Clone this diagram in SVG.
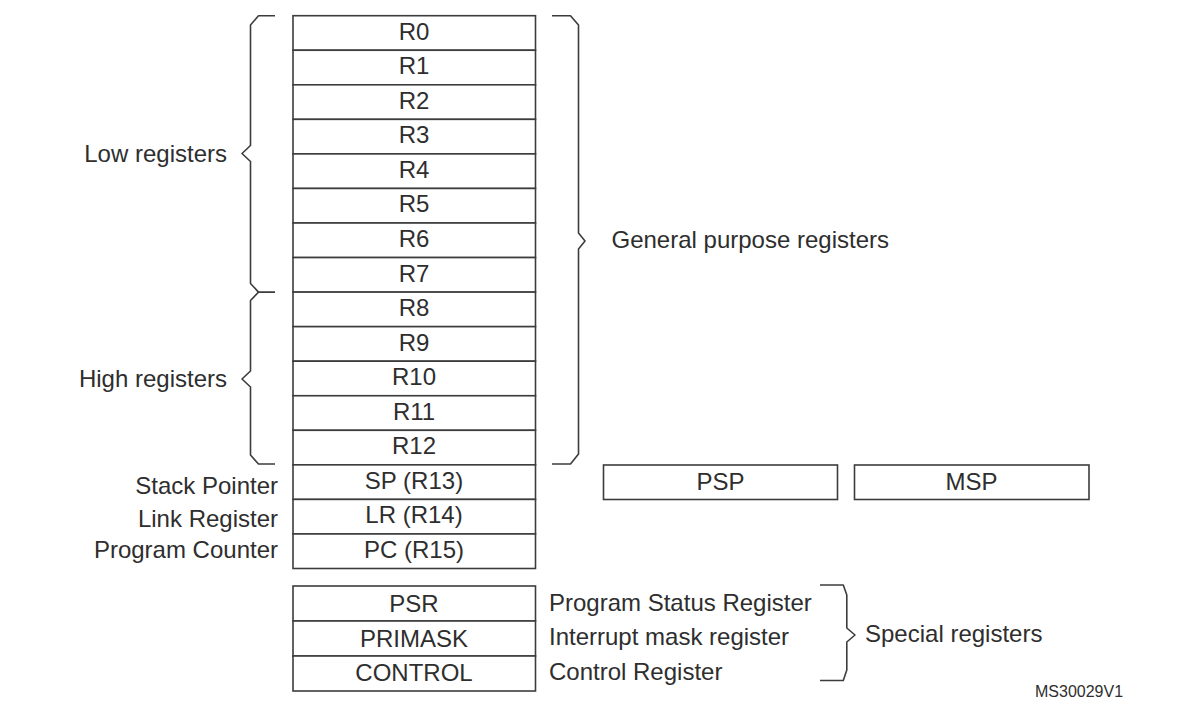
<svg xmlns="http://www.w3.org/2000/svg" width="1194" height="717" viewBox="0 0 1194 717">
  <style>
    .box { fill: #ffffff; stroke: #3c3c3c; stroke-width: 1.6; }
    .brace { fill: none; stroke: #3c3c3c; stroke-width: 1.6; stroke-linejoin: round; }
    text { font-family: "Liberation Sans", Arial, sans-serif; font-size: 24px; fill: #2e2e2e; }
    .c { text-anchor: middle; }
    .r { text-anchor: end; }
    .small { font-size: 16px; }
  </style>
  <rect width="1194" height="717" fill="#ffffff"/>

  <!-- core register file, R0..PC -->
  <g id="core-registers">
    <g id="reg-r0"><rect class="box" x="293" y="15.7" width="242.5" height="34.55"/><text class="c" x="414" y="39.7">R0</text></g>
    <g id="reg-r1"><rect class="box" x="293" y="50.25" width="242.5" height="34.55"/><text class="c" x="414" y="74.25">R1</text></g>
    <g id="reg-r2"><rect class="box" x="293" y="84.8" width="242.5" height="34.55"/><text class="c" x="414" y="108.8">R2</text></g>
    <g id="reg-r3"><rect class="box" x="293" y="119.35" width="242.5" height="34.55"/><text class="c" x="414" y="143.35">R3</text></g>
    <g id="reg-r4"><rect class="box" x="293" y="153.9" width="242.5" height="34.55"/><text class="c" x="414" y="177.9">R4</text></g>
    <g id="reg-r5"><rect class="box" x="293" y="188.45" width="242.5" height="34.55"/><text class="c" x="414" y="212.45">R5</text></g>
    <g id="reg-r6"><rect class="box" x="293" y="223" width="242.5" height="34.55"/><text class="c" x="414" y="247">R6</text></g>
    <g id="reg-r7"><rect class="box" x="293" y="257.55" width="242.5" height="34.55"/><text class="c" x="414" y="281.55">R7</text></g>
    <g id="reg-r8"><rect class="box" x="293" y="292.1" width="242.5" height="34.55"/><text class="c" x="414" y="316.1">R8</text></g>
    <g id="reg-r9"><rect class="box" x="293" y="326.65" width="242.5" height="34.55"/><text class="c" x="414" y="350.65">R9</text></g>
    <g id="reg-r10"><rect class="box" x="293" y="361.2" width="242.5" height="34.55"/><text class="c" x="414" y="385.2">R10</text></g>
    <g id="reg-r11"><rect class="box" x="293" y="395.75" width="242.5" height="34.55"/><text class="c" x="414" y="419.75">R11</text></g>
    <g id="reg-r12"><rect class="box" x="293" y="430.3" width="242.5" height="34.55"/><text class="c" x="414" y="454.3">R12</text></g>
    <g id="reg-sp"><rect class="box" x="293" y="464.85" width="242.5" height="34.55"/><text class="c" x="414" y="488.85">SP (R13)</text></g>
    <g id="reg-lr"><rect class="box" x="293" y="499.4" width="242.5" height="34.55"/><text class="c" x="414" y="523.4">LR (R14)</text></g>
    <g id="reg-pc"><rect class="box" x="293" y="533.95" width="242.5" height="34.55"/><text class="c" x="414" y="557.95">PC (R15)</text></g>
  </g>

  <!-- banked stack pointers -->
  <g id="reg-psp"><rect class="box" x="603.5" y="465" width="234" height="34.5"/><text class="c" x="720.5" y="489.5">PSP</text></g>
  <g id="reg-msp"><rect class="box" x="854.5" y="465" width="234.5" height="34.5"/><text class="c" x="971.5" y="489.5">MSP</text></g>

  <!-- special registers -->
  <g id="special-registers">
    <g id="reg-psr"><rect class="box" x="293" y="586" width="242.5" height="35"/><text class="c" x="414" y="612">PSR</text></g>
    <g id="reg-primask"><rect class="box" x="293" y="621" width="242.5" height="35"/><text class="c" x="414" y="646.5">PRIMASK</text></g>
    <g id="reg-control"><rect class="box" x="293" y="656" width="242.5" height="35"/><text class="c" x="414" y="681">CONTROL</text></g>
  </g>

  <!-- descriptive labels -->
  <g id="labels">
    <text class="r" x="227" y="161.7">Low registers</text>
    <text class="r" x="227" y="387.2">High registers</text>
    <text x="611.5" y="248.3">General purpose registers</text>
    <text class="r" x="278" y="494.3">Stack Pointer</text>
    <text class="r" x="278" y="526.5">Link Register</text>
    <text class="r" x="278" y="557.5">Program Counter</text>
    <text x="549" y="611">Program Status Register</text>
    <text x="549" y="645">Interrupt mask register</text>
    <text x="549" y="680">Control Register</text>
    <text x="865" y="641.5">Special registers</text>
    <text class="small" x="1035" y="697">MS30029V1</text>
  </g>

  <!-- grouping braces -->
  <g id="connectors">
    <path class="brace" d="M275,15.7 H258.5 L250.5,25 V145.5 L242,153.5 L250.5,161.5 V283.5 L258.5,292.1 H275 M258.5,292.1 L250.5,300.5 V371 L242,379 L250.5,387 V455 L258.5,464 H275"/>
    <path class="brace" d="M552,15.7 H570.5 L578.5,25 V233 L585,241 L578.5,249 V454 L570.5,464 H552"/>
    <path class="brace" d="M820,585 H843.3 L846.8,595 V628 L855,635 L846.8,642 V670 L843.3,680.5 H820"/>
  </g>
</svg>
